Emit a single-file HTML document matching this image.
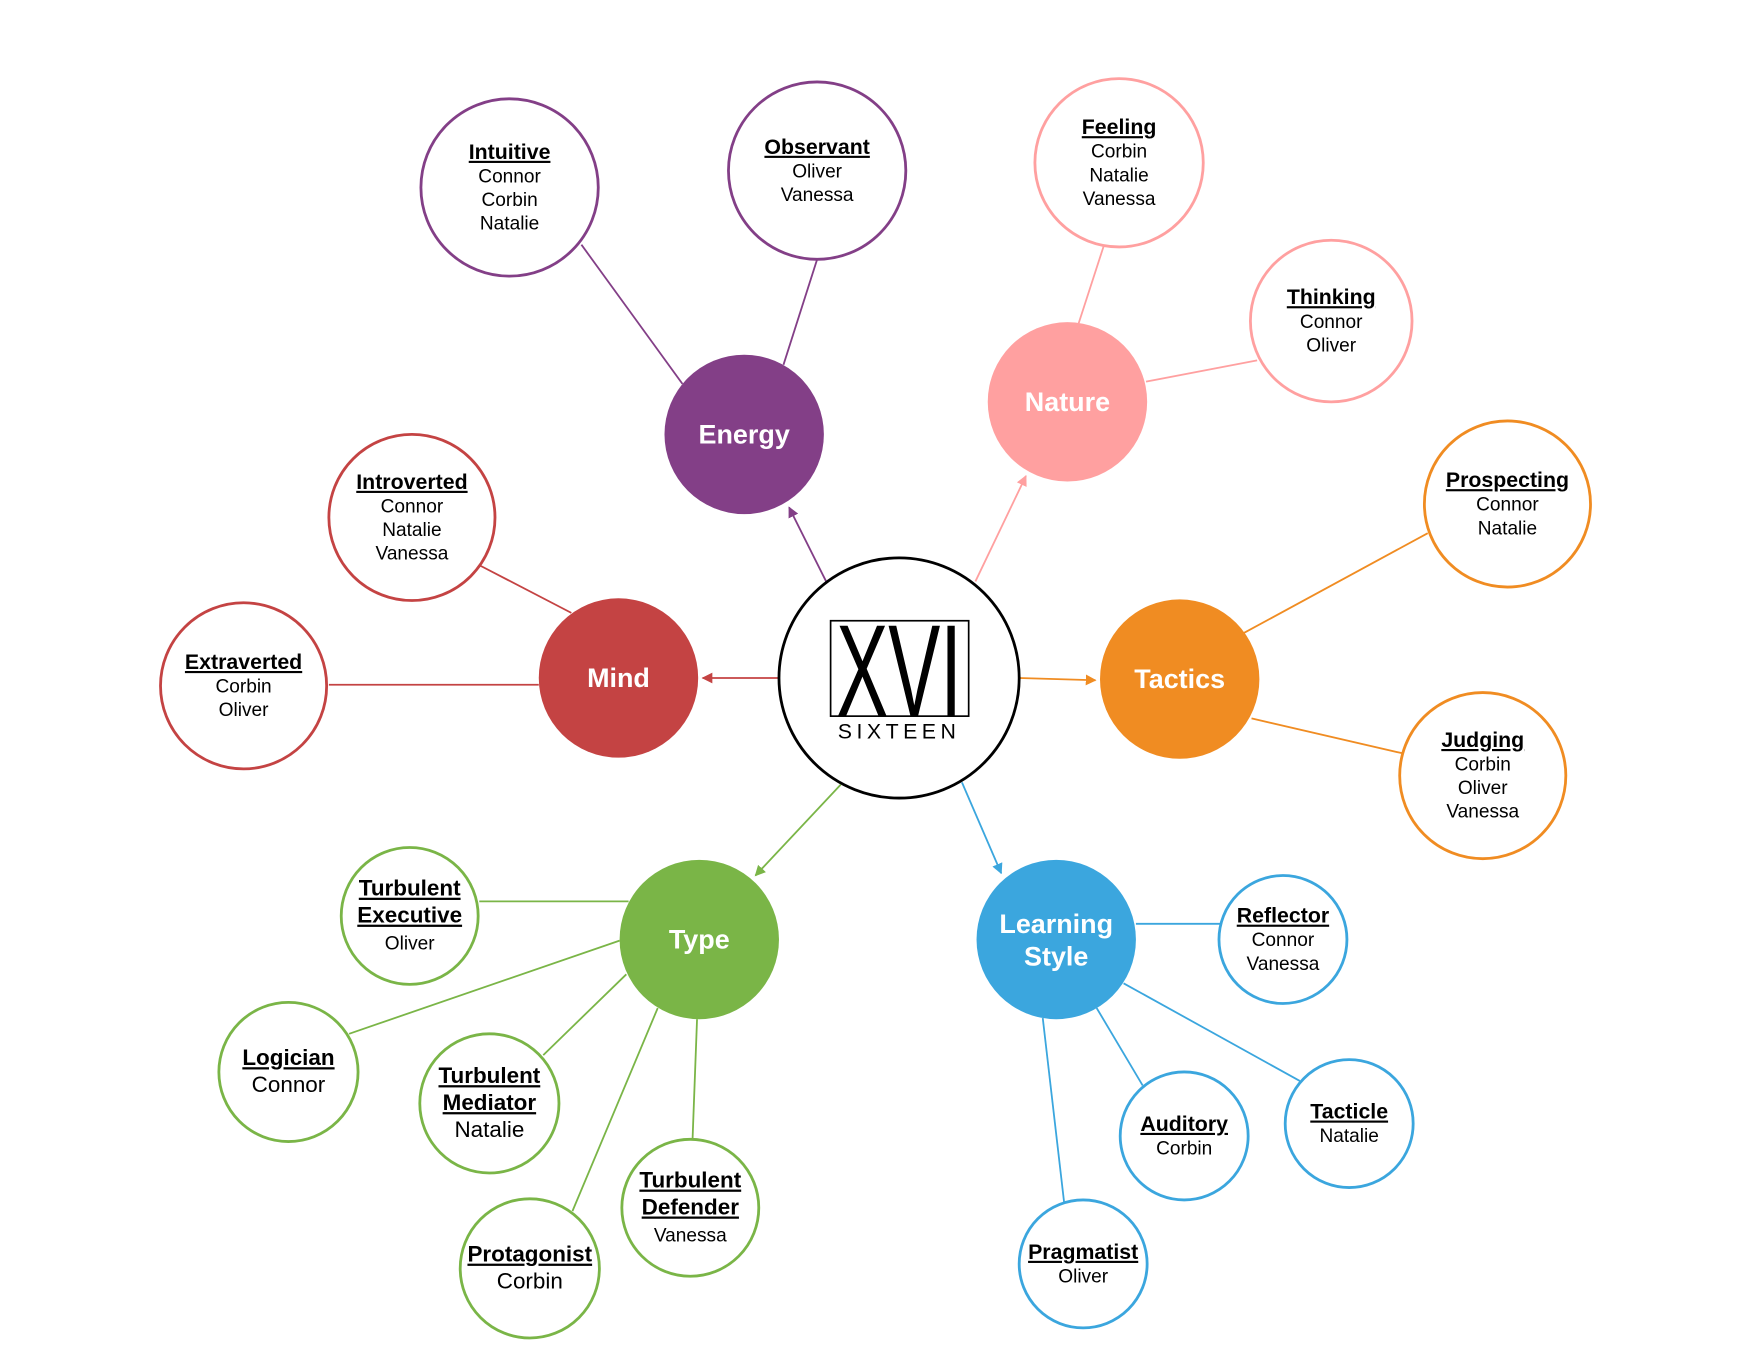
<!DOCTYPE html>
<html><head><meta charset="utf-8"><style>
html,body{margin:0;padding:0;background:#fff;}
svg{display:block;}
text{font-family:"Liberation Sans",sans-serif;}
</style></head><body>
<svg id="d" width="1760" height="1360" viewBox="0 0 1568 1211.6" xmlns="http://www.w3.org/2000/svg">
<defs>
<marker id="ap" viewBox="0 0 10 10" refX="9" refY="5" markerWidth="6" markerHeight="6" orient="auto"><path d="M0,0L10,5L0,10z" fill="#833f87"/></marker>
<marker id="an" viewBox="0 0 10 10" refX="9" refY="5" markerWidth="6" markerHeight="6" orient="auto"><path d="M0,0L10,5L0,10z" fill="#ffa0a0"/></marker>
<marker id="am" viewBox="0 0 10 10" refX="9" refY="5" markerWidth="6" markerHeight="6" orient="auto"><path d="M0,0L10,5L0,10z" fill="#c44343"/></marker>
<marker id="at" viewBox="0 0 10 10" refX="9" refY="5" markerWidth="6" markerHeight="6" orient="auto"><path d="M0,0L10,5L0,10z" fill="#f08c22"/></marker>
<marker id="ay" viewBox="0 0 10 10" refX="9" refY="5" markerWidth="6" markerHeight="6" orient="auto"><path d="M0,0L10,5L0,10z" fill="#7ab547"/></marker>
<marker id="al" viewBox="0 0 10 10" refX="9" refY="5" markerWidth="6" markerHeight="6" orient="auto"><path d="M0,0L10,5L0,10z" fill="#3ba6de"/></marker>
</defs>
<g id="lines"></g>
<g id="nodes"></g>
<g>
<circle cx="801" cy="604" r="107" fill="#fff" stroke="#000" stroke-width="2.5"/>
<rect x="740" y="553" width="123" height="85" fill="none" stroke="#000" stroke-width="1.5"/>
<text x="745" y="638" font-size="117" textLength="112" lengthAdjust="spacingAndGlyphs" font-weight="normal">XVI</text>
<text x="801" y="658" font-size="19" text-anchor="middle" letter-spacing="4">SIXTEEN</text>
</g>
</svg>
<script>
const hubNames=["Energy","Nature","Mind","Tactics","Type","Learning Style"];
const hubColors=["#833f87","#ffa0a0","#c44343","#f08c22","#7ab547","#3ba6de"];
const hubPos=[[663,387],[951,358],[551,604],[1051,605],[623,837],[941,837]];
const hubArrows=[[736,518,703,452,"ap"],[869,518,914,424,"an"],[693,604,626,604,"am"],[908,604,976,606,"at"],[749,699,673,780,"ay"],[857,697,892,778,"al"]];
const leafTitles=[["Intuitive"],["Observant"],["Feeling"],["Thinking"],["Prospecting"],["Judging"],["Introverted"],["Extraverted"],["Turbulent","Executive"],["Logician"],["Turbulent","Mediator"],["Protagonist"],["Turbulent","Defender"],["Reflector"],["Auditory"],["Tacticle"],["Pragmatist"]];
const leafPeople=[["Connor","Corbin","Natalie"],["Oliver","Vanessa"],["Corbin","Natalie","Vanessa"],["Connor","Oliver"],["Connor","Natalie"],["Corbin","Oliver","Vanessa"],["Connor","Natalie","Vanessa"],["Corbin","Oliver"],["Oliver"],["Connor"],["Natalie"],["Corbin"],["Vanessa"],["Connor","Vanessa"],["Corbin"],["Natalie"],["Oliver"]];
const leafHub=[0,0,1,1,3,3,2,2,4,4,4,4,4,5,5,5,5];
const leafPos=[[454,167,79],[728,152,79],[997,145,75],[1186,286,72],[1343,449,74],[1321,691,74],[367,461,74],[217,611,74],[365,816,61],[257,955,62],[436,983,62],[472,1130,62],[615,1076,61],[1143,837,57],[1055,1012,57],[1202,1001,57],[965,1126,57]];
const leafLinks=[[608,342,518,218],[698,325,728,231],[961,288,984,217],[1021,340,1120,321],[1108,564,1272,475],[1115,640,1249,671],[509,546,428,504],[480,610,293,610],[560,803,427,803],[552,838,311,921],[558,868,484,940],[586,898,510,1079],[621,908,617,1015],[1012,823,1087,823],[977,898,1018,967],[1001,876,1158,963],[929,907,948,1071]];
const leafBig=[0,0,0,0,0,0,0,0,2,1,1,1,2,0,0,0,0];
const NS="http://www.w3.org/2000/svg";
const L=document.getElementById('lines'),N=document.getElementById('nodes');
function mk(t,a){const e=document.createElementNS(NS,t);for(const k in a)e.setAttribute(k,a[k]);return e;}
hubArrows.forEach((a,i)=>{
 const l=mk('line',{x1:a[0],y1:a[1],x2:a[2],y2:a[3],stroke:hubColors[i],'stroke-width':1.6,'marker-end':'url(#'+a[4]+')'});
 
 
 L.appendChild(l);
});
leafLinks.forEach((a,i)=>{
 const l=mk('line',{x1:a[0],y1:a[1],x2:a[2],y2:a[3],stroke:hubColors[leafHub[i]],'stroke-width':1.6});
 
 
 L.appendChild(l);
});
hubPos.forEach((p,i)=>{
 const g=mk('g',{});
 
 
 g.appendChild(mk('circle',{cx:p[0],cy:p[1],r:71,fill:hubColors[i]}));
 const words=hubNames[i]==="Learning Style"?["Learning","Style"]:[hubNames[i]];
 words.forEach((w,j)=>{
  const t=mk('text',{x:p[0],y:p[1]+8-(words.length-1)*14+j*29,'font-size':24,'font-weight':'bold',fill:'#fff','text-anchor':'middle'});
  t.textContent=w;g.appendChild(t);
 });
 N.appendChild(g);
});
leafPos.forEach((p,i)=>{
 const g=mk('g',{});
 
 
 g.appendChild(mk('circle',{cx:p[0],cy:p[1],r:p[2],fill:'#fff',stroke:hubColors[leafHub[i]],'stroke-width':2.5}));
 const big=leafBig[i];
 const ts=big?20:19, ps=big===1?20:17, lh=big?24:21;
 const lines=leafTitles[i].map(s=>[s,1]).concat(leafPeople[i].map(s=>[s,0]));
 const total=(lines.length-1)*lh;
 let y=p[1]-total/2+6 + (big?0:0);
 lines.forEach(([s,b])=>{
  const t=mk('text',{x:p[0],y:y,'font-size':b?ts:ps,'text-anchor':'middle',fill:'#000'});
  if(b){t.setAttribute('font-weight','bold');t.setAttribute('text-decoration','underline');}
  t.textContent=s;g.appendChild(t);y+=lh;
 });
 N.appendChild(g);
});
</script>
</body></html>
